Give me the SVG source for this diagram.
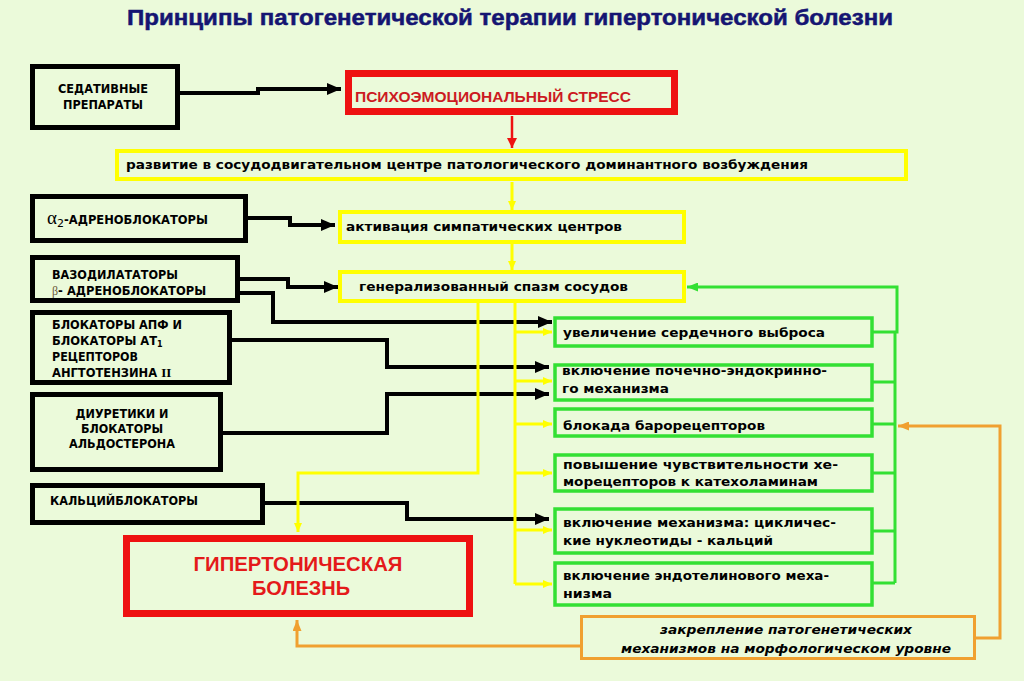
<svg xmlns="http://www.w3.org/2000/svg" width="1024" height="681" viewBox="0 0 1024 681">
<defs>
<style>
.bg{fill:#ebfada}
.bk{fill:#ebfada;stroke:#000;stroke-width:5}
.rd{fill:#ebfada;stroke:#ee1111;stroke-width:7}
.yl{fill:#ebfada;stroke:#ffff00;stroke-width:4}
.gr{fill:#ebfada;stroke:#33e033;stroke-width:3.5}
.or{fill:#ebfada;stroke:#f0a030;stroke-width:3}
.t{font-family:"DejaVu Sans","Liberation Sans",sans-serif;font-weight:bold;fill:#000}
.tl{font-size:11.5px}
.tm{font-size:13px}
.red{font-family:"Liberation Sans","DejaVu Sans",sans-serif;font-weight:bold}
.ser{font-family:"Liberation Serif","DejaVu Serif",serif}
.cb{fill:none;stroke:#000;stroke-width:4}
.cy{fill:none;stroke:#ffff00;stroke-width:3}
.cg{fill:none;stroke:#33e033;stroke-width:3}
.co{fill:none;stroke:#f0a030;stroke-width:3}
.cr{fill:none;stroke:#ee1111;stroke-width:2.5}
</style>
<marker id="ab" markerUnits="userSpaceOnUse" markerWidth="14" markerHeight="12" refX="14" refY="6" orient="auto"><path d="M0,0 L14,6 L0,12 z" fill="#000"/></marker>
<marker id="ay" markerUnits="userSpaceOnUse" markerWidth="9" markerHeight="8" refX="9" refY="4" orient="auto"><path d="M0,0 L9,4 L0,8 z" fill="#ffff00"/></marker>
<marker id="ag" markerUnits="userSpaceOnUse" markerWidth="11" markerHeight="9" refX="11" refY="4.5" orient="auto"><path d="M0,0 L11,4.5 L0,9 z" fill="#33e033"/></marker>
<marker id="ao" markerUnits="userSpaceOnUse" markerWidth="11" markerHeight="9" refX="11" refY="4.5" orient="auto"><path d="M0,0 L11,4.5 L0,9 z" fill="#f0a030"/></marker>
<marker id="ar" markerUnits="userSpaceOnUse" markerWidth="10" markerHeight="10" refX="10" refY="5" orient="auto"><path d="M0,0 L10,5 L0,10 z" fill="#ee1111"/></marker>
</defs>
<rect class="bg" x="0" y="0" width="1024" height="681"/>
<text x="510" y="25" text-anchor="middle" font-family="Liberation Sans, Arial, sans-serif" font-weight="bold" font-size="22" fill="#151572" stroke="#151572" stroke-width="0.5" textLength="766" lengthAdjust="spacingAndGlyphs">Принципы патогенетической терапии гипертонической болезни</text>

<g id="connectors">
<path class="cb" d="M180,93 H258 V89 H341" marker-end="url(#ab)"/>
<path class="cb" d="M248,218 H290 V225 H335" marker-end="url(#ab)"/>
<path class="cb" d="M240,279 H288 V287 H338" marker-end="url(#ab)"/>
<path class="cb" d="M240,293 H273 V322 H552" marker-end="url(#ab)"/>
<path class="cb" d="M232,340 H387 V367 H549" marker-end="url(#ab)"/>
<path class="cb" d="M223,433 H387 V394 H549" marker-end="url(#ab)"/>
<path class="cb" d="M265,503 H407 V519 H549" marker-end="url(#ab)"/>
<path class="cr" d="M512,116 V148" marker-end="url(#ar)"/>
<path class="cy" d="M512,182 V210" marker-end="url(#ay)"/>
<path class="cy" d="M512,243 V270" marker-end="url(#ay)"/>
<path class="cy" d="M478,303 V473 H298 V532" marker-end="url(#ay)"/>
<path class="cy" d="M515,303 V584"/>
<path class="cy" d="M515,332 H552" marker-end="url(#ay)"/>
<path class="cy" d="M515,381 H552" marker-end="url(#ay)"/>
<path class="cy" d="M515,424 H552" marker-end="url(#ay)"/>
<path class="cy" d="M515,473 H552" marker-end="url(#ay)"/>
<path class="cy" d="M515,530 H552" marker-end="url(#ay)"/>
<path class="cy" d="M515,584 H552" marker-end="url(#ay)"/>
<path class="cg" d="M872,332 H897 V287 H687" marker-end="url(#ag)"/>
<path class="cg" d="M895,332 V583"/>
<path class="cg" d="M872,382 H895 M872,424 H895 M872,473 H895 M872,531 H895 M872,583 H895"/>
<path class="co" d="M975,638 H1000 V426 H898" marker-end="url(#ao)"/>
<path class="co" d="M580,646 H297 V620" marker-end="url(#ao)"/>
</g>

<g id="n-sedativ">
<rect class="bk" x="32.5" y="66.5" width="145" height="61"/>
<text class="t tl" x="103" y="93" text-anchor="middle" textLength="90" lengthAdjust="spacingAndGlyphs">СЕДАТИВНЫЕ</text>
<text class="t tl" x="103" y="109" text-anchor="middle" textLength="80" lengthAdjust="spacingAndGlyphs">ПРЕПАРАТЫ</text>
</g>
<g id="n-stress">
<rect class="rd" x="348.5" y="73.5" width="326" height="38"/>
<text class="red" x="355" y="102" font-size="15" fill="#cc1a22" textLength="276" lengthAdjust="spacingAndGlyphs">ПСИХОЭМОЦИОНАЛЬНЫЙ СТРЕСС</text>
</g>
<g id="n-razvitie">
<rect class="yl" x="117" y="151" width="789" height="28"/>
<text class="t tm" x="126" y="169" textLength="682" lengthAdjust="spacingAndGlyphs">развитие в сосудодвигательном центре патологического доминантного возбуждения</text>
</g>
<g id="n-alpha">
<rect class="bk" x="32.5" y="196.5" width="213" height="44"/>
<text class="t tl" x="47" y="224"><tspan class="ser" font-size="19" font-weight="normal">α</tspan><tspan font-size="11" font-weight="normal" dy="3">2</tspan><tspan dy="-3">-АДРЕНОБЛОКАТОРЫ</tspan></text>
</g>
<g id="n-aktivacia">
<rect class="yl" x="340" y="212" width="344" height="30"/>
<text class="t tm" x="346" y="231" textLength="276" lengthAdjust="spacingAndGlyphs">активация симпатических центров</text>
</g>
<g id="n-vazo">
<rect class="bk" x="32.5" y="257.5" width="205" height="43"/>
<text class="t tl" x="52" y="279" textLength="126" lengthAdjust="spacingAndGlyphs">ВАЗОДИЛАТАТОРЫ</text>
<text class="t tl" x="52" y="295"><tspan class="ser" font-size="12" font-weight="normal" fill="#6b5a3a">β</tspan><tspan>- АДРЕНОБЛОКАТОРЫ</tspan></text>
</g>
<g id="n-spazm">
<rect class="yl" x="340" y="272" width="344" height="29"/>
<text class="t tm" x="359" y="291" textLength="269" lengthAdjust="spacingAndGlyphs">генерализованный спазм сосудов</text>
</g>
<g id="n-apf">
<rect class="bk" x="32.5" y="312.5" width="197" height="70"/>
<text class="t tl" x="52" y="329" textLength="130" lengthAdjust="spacingAndGlyphs">БЛОКАТОРЫ АПФ И</text>
<text class="t tl" x="52" y="345">БЛОКАТОРЫ АТ<tspan font-size="8" dy="2">1</tspan></text>
<text class="t tl" x="52" y="361" textLength="86" lengthAdjust="spacingAndGlyphs">РЕЦЕПТОРОВ</text>
<text class="t tl" x="52" y="377">АНГТОТЕНЗИНА  <tspan class="ser" font-size="13" font-weight="bold">II</tspan></text>
</g>
<g id="n-diur">
<rect class="bk" x="32.5" y="394.5" width="188" height="75"/>
<text class="t tl" x="122" y="418" text-anchor="middle" textLength="93" lengthAdjust="spacingAndGlyphs">ДИУРЕТИКИ И</text>
<text class="t tl" x="122" y="433" text-anchor="middle" textLength="82" lengthAdjust="spacingAndGlyphs">БЛОКАТОРЫ</text>
<text class="t tl" x="122" y="448" text-anchor="middle" textLength="106" lengthAdjust="spacingAndGlyphs">АЛЬДОСТЕРОНА</text>
</g>
<g id="n-calc">
<rect class="bk" x="32.5" y="485.5" width="230" height="37"/>
<text class="t tl" x="50" y="505" textLength="148" lengthAdjust="spacingAndGlyphs">КАЛЬЦИЙБЛОКАТОРЫ</text>
</g>
<g id="n-gb">
<rect class="rd" x="126.5" y="538.5" width="343" height="75"/>
<text class="red" x="298" y="571" font-size="20" fill="#e41a1a" text-anchor="middle" textLength="209" lengthAdjust="spacingAndGlyphs">ГИПЕРТОНИЧЕСКАЯ</text>
<text class="red" x="301" y="595" font-size="20" fill="#e41a1a" text-anchor="middle" textLength="98" lengthAdjust="spacingAndGlyphs">БОЛЕЗНЬ</text>
</g>
<g id="n-g1">
<rect class="gr" x="555" y="318" width="317" height="28"/>
<text class="t tm" x="563" y="337" textLength="262" lengthAdjust="spacingAndGlyphs">увеличение сердечного выброса</text>
</g>
<g id="n-g2">
<rect class="gr" x="555" y="365" width="317" height="35"/>
<text class="t tm" x="562" y="375" textLength="265" lengthAdjust="spacingAndGlyphs">включение почечно-эндокринно-</text>
<text class="t tm" x="562" y="393" textLength="107" lengthAdjust="spacingAndGlyphs">го механизма</text>
</g>
<g id="n-g3">
<rect class="gr" x="555" y="409" width="317" height="27"/>
<text class="t tm" x="563" y="430" textLength="202" lengthAdjust="spacingAndGlyphs">блокада барорецепторов</text>
</g>
<g id="n-g4">
<rect class="gr" x="555" y="455" width="317" height="36"/>
<text class="t tm" x="563" y="469" textLength="275" lengthAdjust="spacingAndGlyphs">повышение чувствительности хе-</text>
<text class="t tm" x="563" y="486" textLength="255" lengthAdjust="spacingAndGlyphs">морецепторов к катехоламинам</text>
</g>
<g id="n-g5">
<rect class="gr" x="555" y="509" width="317" height="44"/>
<text class="t tm" x="563" y="527" textLength="273" lengthAdjust="spacingAndGlyphs">включение механизма: цикличес-</text>
<text class="t tm" x="563" y="545" textLength="210" lengthAdjust="spacingAndGlyphs">кие нуклеотиды - кальций</text>
</g>
<g id="n-g6">
<rect class="gr" x="555" y="563" width="317" height="42"/>
<text class="t tm" x="563" y="580" textLength="266" lengthAdjust="spacingAndGlyphs">включение эндотелинового меха-</text>
<text class="t tm" x="563" y="598" textLength="49" lengthAdjust="spacingAndGlyphs">низма</text>
</g>
<g id="n-zakrep">
<rect class="or" x="581.5" y="616.5" width="393" height="42"/>
<text class="t tm" x="786" y="634" text-anchor="middle" font-style="italic" textLength="252" lengthAdjust="spacingAndGlyphs">закрепление патогенетических</text>
<text class="t tm" x="786" y="653" text-anchor="middle" font-style="italic" textLength="330" lengthAdjust="spacingAndGlyphs">механизмов на морфологическом уровне</text>
</g>
</svg>
